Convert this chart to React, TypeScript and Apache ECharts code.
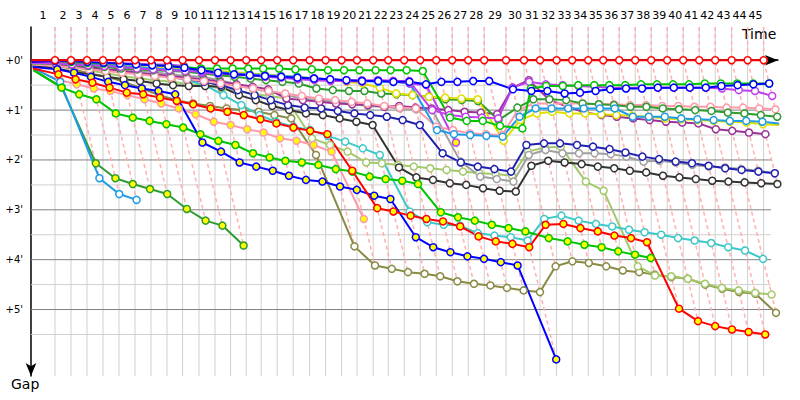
import React, { useEffect, useRef } from "react";
import * as echarts from "echarts";

// Leader's cumulative race time (s) at the end of each lap, index = lap (0 = start)
const leaderTimes = [0, 120, 200, 280, 360, 440, 520, 600, 680, 758, 840, 920, 998, 1076, 1151, 1231, 1311, 1393, 1473, 1553, 1630, 1711, 1786, 1866, 1946, 2026, 2106, 2186, 2266, 2375, 2465, 2545, 2628, 2706, 2786, 2861, 2941, 3021, 3101, 3181, 3261, 3341, 3421, 3503, 3583, 3663];
const lapLabels = Array.from({ length: 45 }, (_, i) => String(i + 1));
const gapTicks = [0, 60, 120, 180, 240, 300];
const gridGaps = [30, 60, 90, 120, 150, 180, 210, 240, 270, 300, 330];

// Gap to leader (s), index = lap (0 = start)
const gapsLeader = [0, 0, 0, 0, 0, 0, 0, 0, 0, 0, 0, 0, 0, 0, 0, 0, 0, 0, 0, 0, 0, 0, 0, 0, 0, 0, 0, 0, 0, 0, 0, 0, 0, 0, 0, 0, 0, 0, 0, 0, 0, 0, 0, 0, 0, 0];
const gapsRedB = [10, 17, 23, 27, 33, 39, 41, 45, 49, 53, 58, 62, 66, 71, 76, 81, 85, 89, 133, 178, 182, 187, 191, 194, 200, 212, 218, 221, 225, 198, 197, 202, 206, 211, 214, 219, 299, 314, 320, 324, 327, 330];
const gapsBlueA = [2, 1, 1, 2, 3, 4, 5, 6, 7, 9, 12, 15, 17, 18, 19, 20, 21, 22, 23, 24, 25, 25, 26, 26, 29, 26, 26, 25, 25, 35, 37, 37, 40, 39, 37, 35, 34, 34, 33, 33, 33, 33, 31, 30, 29, 28];
const gapsBlueB = [8, 11, 15, 20, 26, 30, 34, 37, 41, 99, 110, 123, 128, 133, 139, 144, 146, 152, 156, 163, 167, 213, 225, 231, 236, 239, 243, 247, 360];
const gapsGreenA = [1, 1, 2, 3, 4, 4, 5, 6, 7, 8, 10, 10, 10, 10, 10, 10, 11, 11, 12, 12, 12, 12, 12, 12, 13, 69, 73, 73, 79, 82, 34, 31, 31, 30, 30, 30, 30, 29, 29, 29, 29, 28, 28, 28, 28, 28];
const gapsGreenB = [12, 33, 41, 47, 64, 69, 73, 77, 81, 89, 97, 102, 112, 117, 121, 123, 126, 131, 134, 140, 143, 145, 149, 183, 189, 193, 198, 202, 206, 214, 218, 222, 225, 230, 234, 238];
const gapsVioletA = [3, 4, 5, 6, 7, 8, 10, 11, 12, 13, 14, 16, 17, 18, 19, 20, 22, 22, 23, 24, 24, 24, 25, 25, 60, 66, 68, 69, 70, 33, 26, 29, 30, 31, 32, 33, 33, 33, 33, 33, 33, 33, 34, 36, 37, 43];
const gapsVioletB = [3, 2, 3, 3, 4, 4, 4, 5, 5, 7, 15, 16, 17, 18, 20, 21, 23, 24, 25, 25, 26, 24, 25, 28, 30, 99];
const gapsSkyA = [2, 2, 4, 5, 6, 7, 8, 10, 11, 12, 13, 14, 16, 17, 18, 19, 20, 22, 23, 24, 25, 26, 26, 28, 84, 89, 90, 91, 92, 68, 58, 58, 58, 58, 58, 58, 68, 68, 68, 70, 71, 72, 73, 73, 74, 76];
const gapsSkyB = [9, 26, 142, 161, 168];
const gapsYellow = [3, 3, 4, 5, 6, 7, 8, 9, 10, 11, 12, 13, 14, 16, 17, 19, 20, 22, 24, 26, 28, 33, 40, 42, 44, 45, 46, 47, 97, 72, 64, 62, 64, 64, 65, 66, 67, 68, 70, 71, 72, 73, 74, 75, 77, 78];
const gapsForestA = [4, 4, 6, 7, 8, 10, 11, 12, 13, 14, 16, 18, 20, 22, 24, 26, 28, 34, 36, 37, 37, 40, 41, 42, 44, 47, 48, 49, 72, 57, 47, 47, 48, 52, 53, 54, 56, 56, 58, 59, 60, 61, 63, 64, 66, 68];
const gapsForestB = [12, 32, 124, 142, 149, 155, 161, 179, 193, 199, 223];
const gapsPinkA = [5, 7, 9, 11, 13, 15, 17, 19, 21, 23, 25, 28, 31, 34, 37, 40, 43, 46, 48, 50, 52, 55, 57, 58, 80, 84, 88, 89, 90, 60, 52, 52, 52, 52, 53, 53, 54, 54, 55, 55, 56, 56, 57, 57, 58, 59];
const gapsPinkB = [11, 24, 29, 34, 37, 42, 47, 52, 58, 65, 74, 78, 83, 87, 94, 97, 102, 110, 191];
const gapsPlum = [5, 5, 7, 9, 11, 13, 15, 17, 19, 21, 23, 26, 29, 32, 35, 46, 48, 50, 52, 53, 54, 56, 55, 57, 58, 60, 62, 63, 65, 33, 24, 48, 56, 63, 66, 68, 70, 72, 74, 75, 76, 83, 85, 87, 89];
const gapsGrey = [4, 5, 7, 10, 11, 12, 13, 14, 17, 19, 20, 24, 29, 34, 38, 42, 46, 48, 50, 53, 55, 56, 58, 59, 60, 122, 140, 143, 146, 114, 108, 112, 112, 112, 113, 116, 122, 121, 123, 126, 128, 129, 131, 133, 136];
const gapsNavy = [3, 4, 6, 8, 11, 13, 16, 18, 20, 23, 26, 30, 36, 42, 48, 54, 57, 58, 61, 64, 66, 68, 72, 78, 112, 123, 128, 131, 134, 102, 100, 100, 102, 104, 107, 111, 116, 119, 122, 124, 127, 130, 132, 134, 136];
const gapsBlack = [6, 10, 14, 17, 20, 23, 25, 28, 30, 31, 31, 32, 42, 48, 55, 60, 64, 66, 70, 74, 78, 129, 141, 144, 148, 150, 154, 157, 158, 127, 121, 123, 125, 128, 130, 133, 135, 139, 141, 143, 145, 146, 147, 148, 149];
const gapsCyan = [5, 4, 6, 8, 11, 13, 16, 18, 20, 24, 30, 42, 54, 66, 74, 80, 84, 91, 98, 106, 114, 182, 195, 198, 199, 208, 211, 213, 217, 191, 187, 193, 197, 200, 204, 207, 210, 214, 217, 220, 225, 229, 239];
const gapsLime = [5, 5, 8, 12, 16, 19, 22, 24, 26, 29, 30, 34, 37, 41, 43, 46, 94, 102, 110, 123, 124, 126, 128, 130, 132, 134, 136, 137, 139, 110, 105, 104, 146, 157, 248, 259, 260, 263, 269, 274, 277, 280, 282];
const gapsOlive = [6, 6, 11, 16, 20, 26, 34, 42, 48, 52, 55, 58, 60, 62, 66, 70, 114, 224, 247, 251, 255, 257, 260, 266, 269, 271, 274, 277, 279, 248, 242, 244, 248, 253, 255, 258, 261, 263, 270, 275, 279, 281, 304];

const W = "#ffffff";
const Y = "#ffff00";
const drivers = [
  { name: "Olive", color: "#8a8a45", fill: W, gaps: gapsOlive },
  { name: "Lime", color: "#a3c96b", fill: W, gaps: gapsLime },
  { name: "Cyan", color: "#3ec8c8", fill: W, gaps: gapsCyan },
  { name: "Black", color: "#333333", fill: W, gaps: gapsBlack },
  { name: "Grey", color: "#a0a0a0", fill: W, gaps: gapsGrey },
  { name: "Navy", color: "#2020b0", fill: W, gaps: gapsNavy },
  { name: "Plum", color: "#993399", fill: W, gaps: gapsPlum },
  { name: "Pink B", color: "#ff9aaa", fill: Y, gaps: gapsPinkB },
  { name: "Pink A", color: "#ff9aaa", fill: W, gaps: gapsPinkA },
  { name: "Forest B", color: "#2e9b2e", fill: Y, gaps: gapsForestB },
  { name: "Forest A", color: "#2e9b2e", fill: W, gaps: gapsForestA },
  { name: "Yellow", color: "#e0e000", fill: W, gaps: gapsYellow },
  { name: "Sky B", color: "#1e9be6", fill: W, gaps: gapsSkyB },
  { name: "Sky A", color: "#1e9be6", fill: W, gaps: gapsSkyA },
  { name: "Violet B", color: "#c040f0", fill: Y, gaps: gapsVioletB },
  { name: "Violet A", color: "#c040f0", fill: W, gaps: gapsVioletA },
  { name: "Green B", color: "#00c400", fill: Y, gaps: gapsGreenB },
  { name: "Green A", color: "#00c400", fill: W, gaps: gapsGreenA },
  { name: "Blue B", color: "#0000ff", fill: Y, gaps: gapsBlueB },
  { name: "Blue A", color: "#0000ff", fill: W, gaps: gapsBlueA },
  { name: "Red B", color: "#ff0000", fill: Y, gaps: gapsRedB },
  { name: "Red A", color: "#ff0000", fill: W, gaps: gapsLeader },
];

const X_MAX = 3735;
const GRID_X_END = 3700;
const Y_MIN = -40;
const Y_MAX = 380;

export default function App() {
  const ref = useRef<HTMLDivElement>(null);
  useEffect(() => {
    document.body.style.margin = "0";
    if (!ref.current) return;
    const chart = echarts.init(ref.current, null, { renderer: "svg" });

    const labelPos = lapLabels.map((_, i) => (leaderTimes[i] + leaderTimes[i + 1]) / 2);
    const lapMax: number[] = leaderTimes.map((_, lap) => {
      let m = 0;
      drivers.forEach((d) => {
        if (lap < d.gaps.length) m = Math.max(m, d.gaps[lap]);
      });
      return m;
    });

    const lineSeries = drivers.map((d) => ({
      type: "line",
      name: d.name,
      z: 5,
      silent: true,
      symbol: "circle",
      symbolSize: 7,
      showAllSymbol: true,
      lineStyle: { color: d.color, width: 2 },
      itemStyle: { color: d.fill, borderColor: d.color, borderWidth: 1.5 },
      emphasis: { disabled: true },
      data: d.gaps.map((g, lap) =>
        lap === 0
          ? { value: [leaderTimes[0] + g, g], symbol: "none" }
          : { value: [leaderTimes[lap] + g, g] }
      ),
    }));

    const option: any = {
      animation: false,
      grid: { left: 31, top: 27, width: 747, height: 349 },
      xAxis: {
        type: "value",
        position: "top",
        min: 0,
        max: X_MAX,
        axisLine: {
          show: true,
          lineStyle: { color: "#000", width: 1.5 },
          symbol: ["none", "arrow"],
          symbolSize: [8, 13],
        },
        axisTick: { show: false },
        splitLine: { show: false },
        axisLabel: {
          customValues: labelPos,
          margin: 6,
          color: "#000",
          fontSize: 11,
          fontFamily: "DejaVu Sans",
          formatter: (v: number) => {
            let best = 0;
            labelPos.forEach((p, i) => {
              if (Math.abs(p - v) < Math.abs(labelPos[best] - v)) best = i;
            });
            return lapLabels[best];
          },
        },
      },
      yAxis: {
        type: "value",
        inverse: true,
        min: Y_MIN,
        max: Y_MAX,
        axisLine: {
          show: true,
          lineStyle: { color: "#000", width: 1.5 },
          symbol: ["arrow", "none"],
          symbolSize: [8, 13],
        },
        axisTick: { show: false },
        splitLine: { show: false },
        axisLabel: {
          customValues: gapTicks,
          margin: 8,
          color: "#000",
          fontSize: 10,
          fontFamily: "DejaVu Sans",
          formatter: (v: number) => "+" + Math.round(v / 60) + "'",
        },
      },
      graphic: [
        { type: "text", left: 742, top: 27, style: { text: "Time", font: '14px "DejaVu Sans"', fill: "#000" } },
        { type: "text", left: 11, top: 377, style: { text: "Gap", font: '14px "DejaVu Sans"', fill: "#000" } },
      ],
      series: [
        {
          type: "custom",
          silent: true,
          z: 1,
          data: leaderTimes.slice(1).map((t) => [t, 0]),
          renderItem: (_p: any, api: any) => {
            const a = api.coord([api.value(0), Y_MIN]);
            const b = api.coord([api.value(0), Y_MAX]);
            return { type: "line", shape: { x1: a[0], y1: a[1], x2: b[0], y2: b[1] }, style: { stroke: "#d0d0d0", lineWidth: 1 } };
          },
        },
        {
          type: "custom",
          silent: true,
          z: 1,
          data: gridGaps.map((g) => [0, g]),
          renderItem: (_p: any, api: any) => {
            const g = api.value(1);
            const a = api.coord([0, g]);
            const b = api.coord([GRID_X_END, g]);
            return {
              type: "line",
              shape: { x1: a[0], y1: a[1], x2: b[0], y2: b[1] },
              style: { stroke: g % 60 === 0 ? "#808080" : "#d0d0d0", lineWidth: 1 },
            };
          },
        },
        {
          type: "custom",
          silent: true,
          z: 2,
          data: leaderTimes.slice(1).map((t, i) => [t, lapMax[i + 1]]),
          renderItem: (_p: any, api: any) => {
            const t = api.value(0);
            const g = api.value(1);
            const pts = [api.coord([t, Y_MIN]), api.coord([t, 0]), api.coord([t + g, g])];
            return {
              type: "polyline",
              shape: { points: pts },
              style: { stroke: "#ffb0b0", lineWidth: 1.5, lineDash: [4, 3], fill: null },
            };
          },
        },
        ...lineSeries,
      ],
    };
    chart.setOption(option);
    return () => chart.dispose();
  }, []);
  return <div ref={ref} style={{ width: 800, height: 400 }} />;
}
